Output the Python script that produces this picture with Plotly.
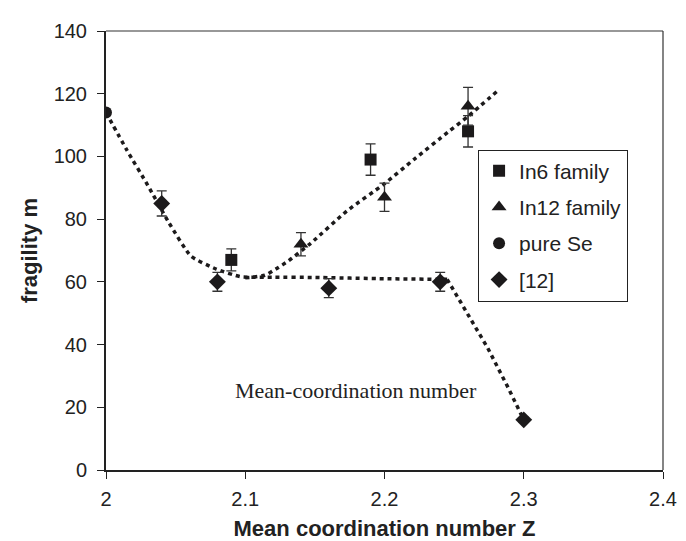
import plotly.graph_objects as go

# ---- data ----
in6_z = [2.09, 2.19, 2.26]
in6_m = [67, 99, 108]
in6_err = [3.5, 5, 5]

in12_z = [2.14, 2.20, 2.26]
in12_m = [72, 87, 116]
in12_err = [3.7, 4.5, 6]

se_z = [2.0]
se_m = [114]

ref12_z = [2.04, 2.08, 2.16, 2.24, 2.30]
ref12_m = [85, 60, 58, 60, 16]
ref12_err = [4, 3, 3, 3, 0.8]

# dotted trend lines
trendA_z = [2.0, 2.015, 2.03, 2.045, 2.061, 2.079, 2.097, 2.12, 2.15, 2.2, 2.245]
trendA_m = [114, 102, 90.8, 79, 68.2, 64.1, 61.6, 61.5, 61.4, 61, 60.8]
trendA2_z = [2.245, 2.274, 2.2885, 2.3]
trendA2_m = [60.8, 39, 26.5, 16]

trendB_z = [2.1, 2.114, 2.122, 2.131, 2.147, 2.173, 2.2, 2.221, 2.2455, 2.26, 2.282]
trendB_m = [61.3, 62.1, 64.1, 66.7, 72.3, 82.6, 91.3, 99, 107.7, 112.8, 121.2]

x_ticks = [2.0, 2.1, 2.2, 2.3, 2.4]
x_ticklabels = ["2", "2.1", "2.2", "2.3", "2.4"]
y_ticks = [0, 20, 40, 60, 80, 100, 120, 140]

INK = "#1c1a1b"
DOT = dict(color=INK, width=3.5, dash="4px,4px")
fig = go.Figure()

fig.add_trace(go.Scatter(x=trendA_z, y=trendA_m, mode="lines", showlegend=False,
                         line=dict(shape="spline", smoothing=0.5, **DOT), hoverinfo="skip"))
fig.add_trace(go.Scatter(x=trendA2_z, y=trendA2_m, mode="lines", showlegend=False,
                         line=dict(**DOT), hoverinfo="skip"))
fig.add_trace(go.Scatter(x=trendB_z, y=trendB_m, mode="lines", showlegend=False,
                         line=dict(shape="spline", smoothing=0.6, **DOT), hoverinfo="skip"))

err_style = dict(type="data", thickness=1.3, width=5, color="#333333")

fig.add_trace(go.Scatter(x=in6_z, y=in6_m, mode="markers", name="In6 family", legendgroup="a",
                         marker=dict(symbol="square", size=12, color=INK),
                         error_y=dict(array=in6_err, **err_style)))
fig.add_trace(go.Scatter(x=in12_z, y=in12_m, mode="markers", name="In12 family", legendgroup="b",
                         marker=dict(symbol="triangle-up", size=13, color=INK),
                         error_y=dict(array=in12_err, **err_style)))
fig.add_trace(go.Scatter(x=se_z, y=se_m, mode="markers", name="pure Se", legendgroup="c",
                         marker=dict(symbol="circle", size=12, color=INK)))
fig.add_trace(go.Scatter(x=ref12_z, y=ref12_m, mode="markers", name="[12]", legendgroup="d",
                         marker=dict(symbol="diamond", size=13, color=INK),
                         error_y=dict(array=ref12_err, **err_style)))

fig.add_annotation(x=2.1794, y=25.2, xref="x", yref="y", text="Mean-coordination number",
                   showarrow=False, font=dict(family="Liberation Serif", size=22, color="#222222"))

# top and right frame lines
fig.add_shape(type="line", xref="paper", yref="paper", x0=0, x1=1, y0=1, y1=1,
              line=dict(color="#333333", width=1.2))
fig.add_shape(type="line", xref="paper", yref="paper", x0=1, x1=1, y0=0, y1=1,
              line=dict(color="#333333", width=1.2))

fig.update_layout(
    width=686, height=541,
    margin=dict(l=98, r=31, t=16, b=69),
    plot_bgcolor="white", paper_bgcolor="white",
    font=dict(family="Liberation Sans, Arial", size=20, color="#222222"),
    showlegend=True,
    legend=dict(x=0.668, y=0.73, xanchor="left", yanchor="top",
                bordercolor="#222222", borderwidth=1, bgcolor="white",
                font=dict(size=21), tracegroupgap=6, itemwidth=30),
    xaxis=dict(range=[2.0, 2.4], tickvals=x_ticks, ticktext=x_ticklabels,
               showline=True, linecolor="#222222", linewidth=2, ticks="outside",
               ticklen=7, tickwidth=1.2, tickcolor="#222222", showgrid=False, zeroline=False,
               ticklabelstandoff=3,
               title=dict(text="<b>Mean coordination number Z</b>", font=dict(size=22), standoff=12)),
    yaxis=dict(range=[0, 140], tickvals=y_ticks,
               showline=True, linecolor="#222222", linewidth=2, ticks="outside",
               ticklen=7, tickwidth=1.2, tickcolor="#222222", showgrid=False, zeroline=False,
               ticklabelstandoff=6,
               title=dict(text="<b>fragility m</b>", font=dict(size=22), standoff=10)),
)

fig.write_html("out.html")
